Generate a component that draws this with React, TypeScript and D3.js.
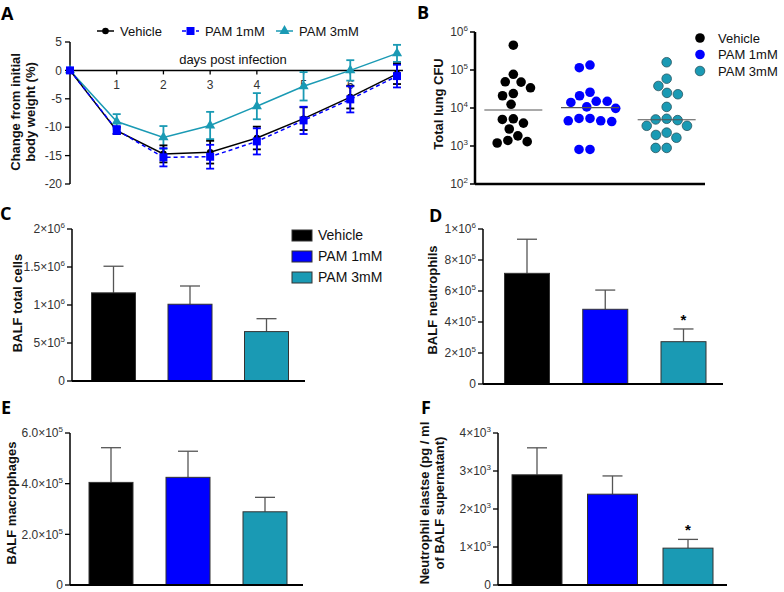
import React from 'react';
import * as d3 from 'd3';

// ---------- DATA ----------
const groups = ['Vehicle', 'PAM 1mM', 'PAM 3mM'];
const colors = ['#000000', '#0000FF', '#1A9AB4'];

// Panel A: body weight change
const days = [0, 1, 2, 3, 4, 5, 6, 7];
const dayTicks = [1, 2, 3, 4, 5, 6];
const weightTicks = [-20, -15, -10, -5, 0, 5];
const vehicleWeight = [0, -10.6, -14.7, -14.4, -11.9, -8.5, -4.7, -0.6];
const vehicleWeightErr = [0, 0.6, 1.5, 2.0, 2.0, 2.0, 2.0, 1.8];
const pam1Weight = [0, -10.5, -15.3, -15.2, -12.5, -8.8, -5.1, -1.0];
const pam1WeightErr = [0, 0.7, 1.6, 2.1, 2.3, 2.4, 2.3, 2.0];
const pam3Weight = [0, -9.0, -11.8, -9.7, -6.3, -2.8, 0.0, 3.0];
const pam3WeightErr = [0, 1.3, 2.0, 2.4, 2.3, 2.5, 1.8, 1.5];

// Panel B: lung CFU
const cfuTicks = [1e2, 1e3, 1e4, 1e5, 1e6];
const vehicleCFU = [4.5e5, 7.7e4, 3.4e4, 2.4e4, 4.8e4, 4.9e4, 2.1e4, 1.25e4, 2.8e3, 4.0e3, 5.0e3, 5.2e3, 1.2e3, 1.85e3, 1.3e3, 1.4e3];
const pam1CFU = [1.15e5, 1.35e5, 2.6e4, 1.5e4, 1.5e4, 2.1e4, 1.4e4, 9.8e3, 1.07e4, 5.3e3, 4.6e3, 4.6e3, 4.4e3, 5.3e3, 8.1e2, 8.1e2];
const pam3CFU = [1.6e5, 5.9e4, 3.8e4, 2.5e4, 2.3e4, 1.07e4, 4.8e3, 5.2e3, 5.0e3, 3.4e3, 3.4e3, 1.95e3, 2.25e3, 1.65e3, 8.9e2, 8.9e2];

// Panel C: BALF total cells
const totalCells = [1.16e6, 1.01e6, 0.65e6];
const totalCellsErr = [0.35e6, 0.24e6, 0.17e6];
const totalCellsTicks = [0, 5e5, 1e6, 1.5e6, 2e6];

// Panel D: BALF neutrophils
const neutrophils = [7.14e5, 4.82e5, 2.73e5];
const neutrophilsErr = [2.2e5, 1.24e5, 0.82e5];
const neutrophilsTicks = [0, 2e5, 4e5, 6e5, 8e5, 1e6];
const neutrophilsSig = ['', '', '*'];

// Panel E: BALF macrophages
const macrophages = [4.05e5, 4.25e5, 2.89e5];
const macrophagesErr = [1.37e5, 1.03e5, 0.57e5];
const macrophagesTicks = [0, 2e5, 4e5, 6e5];

// Panel F: neutrophil elastase
const elastase = [2.9e3, 2.39e3, 0.97e3];
const elastaseErr = [0.71e3, 0.48e3, 0.23e3];
const elastaseTicks = [0, 1e3, 2e3, 3e3, 4e3];
const elastaseSig = ['', '', '*'];

// ---------- HELPERS ----------
const FONT = 'Liberation Sans, Arial, sans-serif';
const TICK_COLOR = '#333';

function sciLabel(v: number, decimals: number | null) {
  if (v === 0) return { mant: '0', exp: null as string | null };
  const exp = Math.floor(Math.log10(v) + 1e-9);
  const m = v / Math.pow(10, exp);
  const mant = decimals === null ? String(+m.toFixed(2)) : m.toFixed(decimals);
  return { mant, exp: String(exp) };
}

function SciText({ x, y, v, decimals = null, pow = false }: any) {
  const { mant, exp } = sciLabel(v, decimals);
  if (exp === null) {
    return <text x={x} y={y} textAnchor="end" fontSize={12} fill={TICK_COLOR} fontFamily={FONT} dy="0.35em">0</text>;
  }
  return (
    <text x={x} y={y} textAnchor="end" fontSize={12} fill={TICK_COLOR} fontFamily={FONT} dy="0.35em">
      {pow ? '10' : `${mant}×10`}
      <tspan fontSize={8} dy={-5}>{exp}</tspan>
    </text>
  );
}

function swarm(vals: number[], y: (v: number) => number, d: number) {
  const pts = vals.map((v) => ({ v, y: y(v), x: 0 }));
  const order = pts.slice().sort((a, b) => a.y - b.y);
  const placed: { v: number; y: number; x: number }[] = [];
  for (const p of order) {
    const cands = [0];
    for (const q of placed) {
      const dy = Math.abs(q.y - p.y);
      if (dy < d) {
        const dx = Math.sqrt(d * d - dy * dy);
        cands.push(q.x + dx, q.x - dx);
      }
    }
    cands.sort((a, b) => Math.abs(a) - Math.abs(b) || a - b);
    for (const c of cands) {
      if (placed.every((q) => Math.hypot(q.x - c, q.y - p.y) >= d - 1e-6)) {
        p.x = c;
        break;
      }
    }
    placed.push(p);
  }
  return pts;
}

function PanelLetter({ x, y, t }: any) {
  return <text x={x} y={y} fontSize={18} fontWeight={700} fontFamily="Open Sans, Liberation Sans, sans-serif">{t}</text>;
}

function YTitle({ x, y, lines }: any) {
  return (
    <text transform={`translate(${x},${y}) rotate(-90)`} textAnchor="middle" fontSize={13} fontWeight={700} fontFamily={FONT} fill="#111">
      {lines.map((l: string, i: number) => (
        <tspan key={i} x={0} dy={i === 0 ? 0 : 15}>{l}</tspan>
      ))}
    </text>
  );
}

// Bar panel
function BarPanel({ values, errs, ticks, domainMax, x0, x1, yTop, yBottom, centers, barW, decimals = null, sig = null, title, titleX, titleY }: any) {
  const y = d3.scaleLinear().domain([0, domainMax]).range([yBottom, yTop]);
  const xc = d3.scalePoint<string>().domain(groups).range(centers);
  const capW = 20;
  return (
    <g>
      {values.map((v: number, i: number) => {
        const cx = xc(groups[i])!;
        const top = y(v);
        const et = y(v + errs[i]);
        return (
          <g key={i}>
            <line x1={cx} x2={cx} y1={top} y2={et} stroke="#555" strokeWidth={1.3} />
            <line x1={cx - capW / 2} x2={cx + capW / 2} y1={et} y2={et} stroke="#555" strokeWidth={1.3} />
            <rect x={cx - barW / 2} y={top} width={barW} height={yBottom - top} fill={colors[i]} stroke="#333" strokeWidth={1} />
            {sig && sig[i] ? (
              <text x={cx} y={et - 4} textAnchor="middle" fontSize={15} fontWeight={700} fontFamily={FONT}>{sig[i]}</text>
            ) : null}
          </g>
        );
      })}
      <line x1={x0} x2={x0} y1={yTop} y2={yBottom} stroke="#000" strokeWidth={1.5} />
      <line x1={x0} x2={x1} y1={yBottom} y2={yBottom} stroke="#000" strokeWidth={1.8} />
      {ticks.map((t: number) => (
        <g key={t}>
          <line x1={x0 - 5} x2={x0} y1={y(t)} y2={y(t)} stroke="#000" strokeWidth={1.3} />
          <SciText x={x0 - 7} y={y(t)} v={t} decimals={decimals} />
        </g>
      ))}
      <YTitle x={titleX} y={titleY} lines={title} />
    </g>
  );
}

// ---------- PANEL A ----------
function PanelA() {
  const x = d3.scaleLinear().domain([0, 7]).range([70, 397]);
  const y = d3.scaleLinear().domain([-20, 5]).range([184, 42]);
  const series = [
    { vals: pam3Weight, errs: pam3WeightErr, color: colors[2], dash: undefined, marker: 'tri' },
    { vals: vehicleWeight, errs: vehicleWeightErr, color: colors[0], dash: undefined, marker: 'circle' },
    { vals: pam1Weight, errs: pam1WeightErr, color: colors[1], dash: '4,3', marker: 'square' },
  ];
  const line = d3.line<number>().x((_, i) => x(days[i])).y((d) => y(d));
  const tri = d3.symbol().type(d3.symbolTriangle).size(45)()!;
  const marker = (m: string, cx: number, cy: number, color: string) => {
    if (m === 'circle') return <circle cx={cx} cy={cy} r={3.3} fill={color} />;
    if (m === 'square') return <rect x={cx - 4} y={cy - 4} width={8} height={8} fill={color} />;
    return <path d={tri} transform={`translate(${cx},${cy})`} fill={color} />;
  };
  const legend = [
    { label: groups[0], x: 97, m: 'circle', c: colors[0], dash: undefined },
    { label: groups[1], x: 182, m: 'square', c: colors[1], dash: '4,3' },
    { label: groups[2], x: 276, m: 'tri', c: colors[2], dash: undefined },
  ];
  return (
    <g>
      <PanelLetter x={1} y={20} t="A" />
      {legend.map((l, i) => (
        <g key={i}>
          <line x1={l.x} x2={l.x + 17} y1={31} y2={31} stroke={l.c} strokeWidth={1.5} strokeDasharray={l.dash} />
          {marker(l.m, l.x + 8.5, 31, l.c)}
          <text x={l.x + 23} y={31} dy="0.35em" fontSize={13} fontFamily={FONT} fill="#111">{l.label}</text>
        </g>
      ))}
      <line x1={70} x2={70} y1={42} y2={184} stroke="#000" strokeWidth={1.5} />
      {weightTicks.map((t) => (
        <g key={t}>
          <line x1={65} x2={70} y1={y(t)} y2={y(t)} stroke="#000" strokeWidth={1.3} />
          <text x={62} y={y(t)} dy="0.35em" textAnchor="end" fontSize={12} fill={TICK_COLOR} fontFamily={FONT}>{t}</text>
        </g>
      ))}
      <line x1={70} x2={403} y1={y(0)} y2={y(0)} stroke="#000" strokeWidth={1.5} />
      {dayTicks.map((t) => (
        <g key={t}>
          <line x1={x(t)} x2={x(t)} y1={y(0)} y2={y(0) + 4} stroke="#000" strokeWidth={1.3} />
          <text x={x(t)} y={y(0) + 14} dy="0.35em" textAnchor="middle" fontSize={12} fill={TICK_COLOR} fontFamily={FONT}>{t}</text>
        </g>
      ))}
      <text x={233} y={59} dy="0.35em" textAnchor="middle" fontSize={13} fill="#111" fontFamily={FONT}>days post infection</text>
      {series.map((s, si) => (
        <g key={si}>
          <path d={line(s.vals)!} fill="none" stroke={s.color} strokeWidth={1.5} strokeDasharray={s.dash} />
          {s.vals.map((v, i) => {
            const cx = x(days[i]);
            if (s.errs[i] === 0) return null;
            const a = y(v - s.errs[i]);
            const b = y(v + s.errs[i]);
            return (
              <g key={i} stroke={s.color} strokeWidth={1.8}>
                <line x1={cx} x2={cx} y1={a} y2={b} />
                <line x1={cx - 4} x2={cx + 4} y1={a} y2={a} />
                <line x1={cx - 4} x2={cx + 4} y1={b} y2={b} />
              </g>
            );
          })}
          {s.vals.map((v, i) => <g key={'m' + i}>{marker(s.marker, x(days[i]), y(v), s.color)}</g>)}
        </g>
      ))}
      <YTitle x={20} y={112} lines={['Change from initial', 'body weight (%)']} />
    </g>
  );
}

// ---------- PANEL B ----------
function PanelB() {
  const y = d3.scaleLog().domain([1e2, 1e6]).range([184, 32]);
  const x = d3.scaleBand<string>().domain(groups).range([475, 705]);
  const data = [vehicleCFU, pam1CFU, pam3CFU];
  const r = 4.8;
  return (
    <g>
      <PanelLetter x={417} y={19} t="B" />
      {data.map((vals, gi) => {
        const cx = x(groups[gi])! + x.bandwidth() / 2;
        const pts = swarm(vals, (v) => y(v), 11);
        const med = d3.median(vals)!;
        return (
          <g key={gi}>
            {pts.map((p, i) => (
              <circle key={i} cx={cx + p.x} cy={p.y} r={r} fill={colors[gi]} stroke={gi === 2 ? '#2a5560' : 'none'} strokeWidth={0.8} />
            ))}
            <line x1={cx - 29} x2={cx + 29} y1={y(med)} y2={y(med)} stroke="#555" strokeWidth={1.2} />
          </g>
        );
      })}
      <line x1={475} x2={475} y1={32} y2={184} stroke="#000" strokeWidth={2.5} />
      <line x1={475} x2={705} y1={184} y2={184} stroke="#000" strokeWidth={2.5} />
      {cfuTicks.map((t) => (
        <g key={t}>
          <line x1={470} x2={475} y1={y(t)} y2={y(t)} stroke="#000" strokeWidth={1.5} />
          <SciText x={468} y={y(t)} v={t} pow={true} />
        </g>
      ))}
      <YTitle x={443} y={104} lines={['Total lung CFU']} />
      {groups.map((g, i) => (
        <g key={g}>
          <circle cx={700} cy={38 + i * 16.5} r={4.8} fill={colors[i]} stroke={i === 2 ? '#2a5560' : 'none'} strokeWidth={0.8} />
          <text x={718} y={38 + i * 16.5} dy="0.35em" fontSize={13} fontFamily={FONT} fill="#111">{g}</text>
        </g>
      ))}
    </g>
  );
}

export default function App() {
  return (
    <svg width={784} height={592} style={{ position: 'absolute', left: 0, top: 0, background: '#fff' }}>
      <rect width={784} height={592} fill="#fff" />
      <PanelA />
      <PanelB />
      {/* Panel C */}
      <PanelLetter x={0} y={220} t="C" />
      <BarPanel values={totalCells} errs={totalCellsErr} ticks={totalCellsTicks} domainMax={2e6}
        x0={72} x1={305} yTop={229} yBottom={381} centers={[113.5, 266.5]} barW={44}
        title={['BALF total cells']} titleX={22} titleY={303} />
      {groups.map((g, i) => (
        <g key={g}>
          <rect x={292} y={230 + i * 21} width={20} height={11} fill={colors[i]} stroke="#333" strokeWidth={1} />
          <text x={318} y={235.5 + i * 21} dy="0.35em" fontSize={14} fontFamily={FONT} fill="#111">{g}</text>
        </g>
      ))}
      {/* Panel D */}
      <PanelLetter x={429} y={222} t="D" />
      <BarPanel values={neutrophils} errs={neutrophilsErr} ticks={neutrophilsTicks} domainMax={1e6}
        x0={483} x1={723} yTop={229} yBottom={384} centers={[527, 683.5]} barW={45} sig={neutrophilsSig}
        title={['BALF neutrophils']} titleX={437} titleY={300} />
      {/* Panel E */}
      <PanelLetter x={1} y={414} t="E" />
      <BarPanel values={macrophages} errs={macrophagesErr} ticks={macrophagesTicks} domainMax={6e5}
        x0={70} x1={303} yTop={433} yBottom={585} centers={[111, 265]} barW={44} decimals={1}
        title={['BALF macrophages']} titleX={16} titleY={503} />
      {/* Panel F */}
      <PanelLetter x={421} y={414} t="F" />
      <BarPanel values={elastase} errs={elastaseErr} ticks={elastaseTicks} domainMax={4e3}
        x0={498} x1={727} yTop={433} yBottom={585} centers={[537, 688]} barW={50} sig={elastaseSig}
        title={['Neutrophil elastse (pg / ml', 'of BALF supernatant)']} titleX={429} titleY={503} />
    </svg>
  );
}
